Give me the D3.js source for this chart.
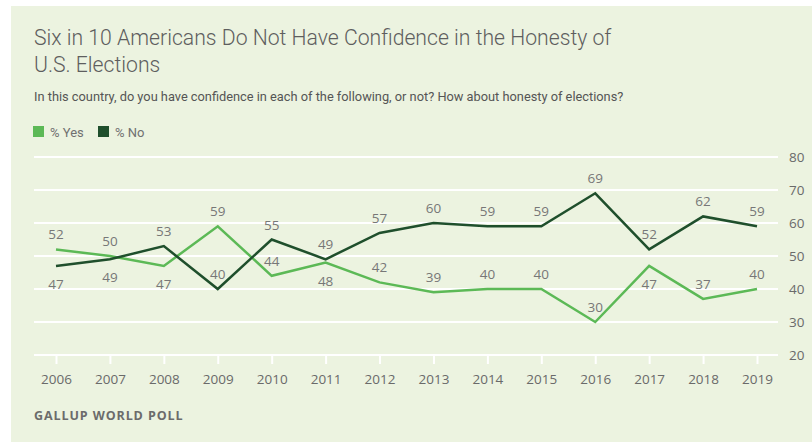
<!DOCTYPE html>
<html>
<head>
<meta charset="utf-8">
<title>Confidence in Honesty of Elections</title>
<script src="https://cdn.jsdelivr.net/npm/d3@7"></script>
<style>
    body { margin: 0; background: #fff; }
    svg { display: block; }
    .title { font-family: Roboto, "Open Sans", sans-serif; font-weight: 300; font-size: 21.2px; fill: #5e5e5e; }
    .sub { font-family: Roboto, sans-serif; font-size: 12.8px; fill: #555; }
    .legend { font-family: Roboto, sans-serif; font-size: 13px; fill: #707070; }
    .num { font-family: "Open Sans", sans-serif; font-size: 13.5px; fill: #777; }
    .axis text { font-family: "Open Sans", sans-serif; font-size: 13.5px; fill: #6a6a6a; }
    .source { font-family: "Open Sans", sans-serif; font-weight: 700; font-size: 12.5px; fill: #6b6b6b; }
</style>
</head>
<body>
<script>
    var years = [2006, 2007, 2008, 2009, 2010, 2011, 2012, 2013, 2014, 2015, 2016, 2017, 2018, 2019];
    var yesValues = [52, 50, 47, 59, 44, 48, 42, 39, 40, 40, 30, 47, 37, 40];
    var noValues = [47, 49, 53, 40, 55, 49, 57, 60, 59, 59, 69, 52, 62, 59];
    var yTicks = [20, 30, 40, 50, 60, 70, 80];
    var seriesNames = ["% Yes", "% No"];
    var seriesColors = ["#5cb956", "#1f4f2c"];

    var w = 812, h = 442;
    var svg = d3.select("body").append("svg").attr("width", w).attr("height", h);

    // panel background
    svg.append("rect").attr("x", 11).attr("y", 6).attr("width", w - 11).attr("height", h - 6)
        .attr("fill", "#ecf3e0");

    svg.append("text").attr("class", "title").attr("x", 34).attr("y", 45)
        .text("Six in 10 Americans Do Not Have Confidence in the Honesty of");
    svg.append("text").attr("class", "title").attr("x", 34).attr("y", 72)
        .text("U.S. Elections");
    svg.append("text").attr("class", "sub").attr("x", 34).attr("y", 101)
        .text("In this country, do you have confidence in each of the following, or not? How about honesty of elections?");

    // legend
    var legX = [33, 98];
    seriesNames.forEach(function(name, i) {
        svg.append("rect").attr("x", legX[i]).attr("y", 126).attr("width", 11).attr("height", 11)
            .attr("fill", seriesColors[i]);
        svg.append("text").attr("class", "legend").attr("x", legX[i] + 17).attr("y", 137).text(name);
    });

    var x = d3.scalePoint().domain(years).range([56, 757]);
    var y = d3.scaleLinear().domain([20, 80]).range([355, 157]);

    // gridlines
    svg.selectAll("line.grid").data(yTicks).enter().append("line")
        .attr("class", "grid")
        .attr("x1", 34).attr("x2", 778)
        .attr("y1", function(d) { return y(d); })
        .attr("y2", function(d) { return y(d); })
        .attr("stroke", "#fff").attr("stroke-width", 2);

    // y axis on the right
    var yAxis = svg.append("g").attr("class", "axis")
        .attr("transform", "translate(789,0)")
        .call(d3.axisRight(y).tickValues(yTicks).tickSize(0).tickPadding(0));
    yAxis.select(".domain").remove();

    // x axis
    var xAxis = svg.append("g").attr("class", "axis")
        .attr("transform", "translate(0," + y(20) + ")")
        .call(d3.axisBottom(x).tickSize(9).tickPadding(10));
    xAxis.select(".domain").remove();
    xAxis.selectAll(".tick line").attr("stroke", "#fff").attr("stroke-width", 2);

    var series = [yesValues, noValues];
    var line = d3.line()
        .x(function(d, i) { return x(years[i]); })
        .y(function(d) { return y(d); });

    series.forEach(function(vals, s) {
        svg.append("path").datum(vals)
            .attr("d", line)
            .attr("fill", "none")
            .attr("stroke", seriesColors[s])
            .attr("stroke-width", 2.5)
            .attr("stroke-linejoin", "miter");
    });

    // value labels: smaller value goes under its point when the lines are close
    series.forEach(function(vals, s) {
        var other = series[1 - s];
        svg.selectAll("text.v" + s).data(vals).enter().append("text")
            .attr("class", "num")
            .attr("text-anchor", "middle")
            .attr("x", function(d, i) { return x(years[i]); })
            .attr("y", function(d, i) {
                var below = d < other[i] && other[i] - d < 10;
                return below ? y(d) + 23 : y(d) - 10;
            })
            .text(function(d) { return d; });
    });

    svg.append("text").attr("class", "source").attr("x", 34).attr("y", 420)
        .attr("letter-spacing", 0.9)
        .text("GALLUP WORLD POLL");
</script>
</body>
</html>
